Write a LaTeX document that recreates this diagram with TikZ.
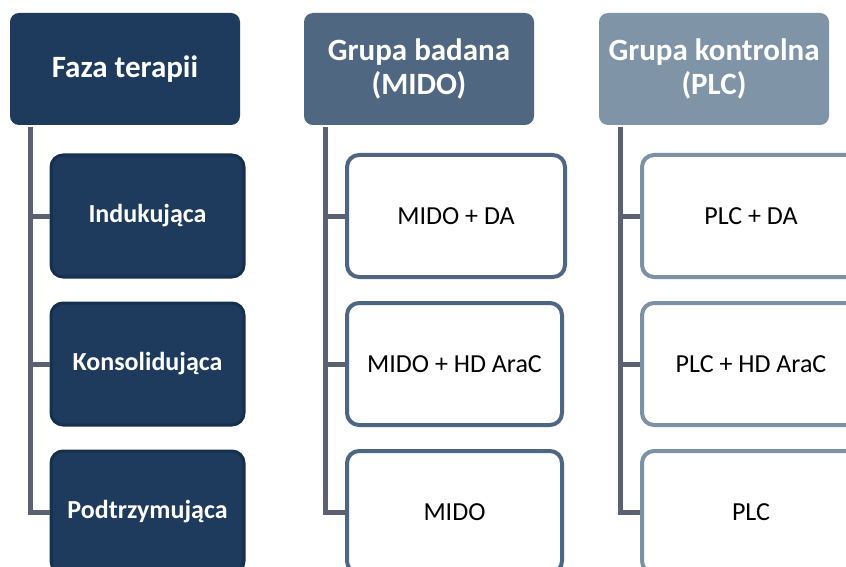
\documentclass[tikz,border=0pt]{standalone}
\usepackage{fontspec}
\setmainfont{Carlito}
\definecolor{navy}{HTML}{1E3A5C}
\definecolor{navyedge}{HTML}{15304F}
\definecolor{slate}{HTML}{4F6781}
\definecolor{slateedge}{HTML}{4D6682}
\definecolor{steel}{HTML}{8094A7}
\definecolor{steeledge}{HTML}{7C91A5}
\definecolor{wire}{HTML}{5B6172}
\begin{document}
\begin{tikzpicture}[x=1pt,y=-1pt,
  head/.style={rounded corners=9pt, minimum width=230pt, minimum height=112pt,
    inner sep=0pt, text=white, align=center,
    font=\fontsize{31}{34}\selectfont\bfseries},
  phase/.style={draw=navyedge, fill=navy, line width=3pt, rounded corners=12pt,
    minimum width=193pt, minimum height=122pt, inner sep=0pt, text=white,
    font=\fontsize{26}{30}\selectfont\bfseries},
  arm/.style={fill=white, line width=4pt, rounded corners=12pt,
    minimum height=122pt, inner sep=0pt, text=black,
    font=\fontsize{26}{30}\selectfont},
  link/.style={draw=wire, line width=5pt}
]
\clip (0,0) rectangle (846,567);
\fill[white] (0,0) rectangle (846,567);

% column headers
\node[head, fill=navy]  (h1) at (125,69) {Faza terapii};
\node[head, fill=slate] (h2) at (419,69) {Grupa badana\\(MIDO)};
\node[head, fill=steel] (h3) at (714,69) {Grupa kontrolna\\(PLC)};

% therapy phases
\node[phase] (p1) at (147.5,216) {Indukująca};
\node[phase] (p2) at (147.5,364) {Konsolidująca};
\node[phase] (p3) at (147.5,512) {Podtrzymująca};

% study group arms
\node[arm, draw=slateedge, minimum width=218pt] (m1) at (456,216) {MIDO + DA};
\node[arm, draw=slateedge, minimum width=215pt] (m2) at (454.5,364) {MIDO + HD AraC};
\node[arm, draw=slateedge, minimum width=215pt] (m3) at (454.5,512) {MIDO};

% control group arms
\node[arm, draw=steeledge, minimum width=218pt] (c1) at (751,216) {PLC + DA};
\node[arm, draw=steeledge, minimum width=218pt] (c2) at (751,364) {PLC + HD AraC};
\node[arm, draw=steeledge, minimum width=218pt] (c3) at (751,512) {PLC};

% tree connectors
\coordinate (t1) at (30,127);
\coordinate (t2) at (325,127);
\coordinate (t3) at (620,127);
\draw[link] (t1) |- (p3.west);
\draw[link] (t1 |- p1.west) -- (p1.west);
\draw[link] (t1 |- p2.west) -- (p2.west);
\draw[link] (t2) |- (m3.west);
\draw[link] (t2 |- m1.west) -- (m1.west);
\draw[link] (t2 |- m2.west) -- (m2.west);
\draw[link] (t3) |- (c3.west);
\draw[link] (t3 |- c1.west) -- (c1.west);
\draw[link] (t3 |- c2.west) -- (c2.west);
\end{tikzpicture}
\end{document}
